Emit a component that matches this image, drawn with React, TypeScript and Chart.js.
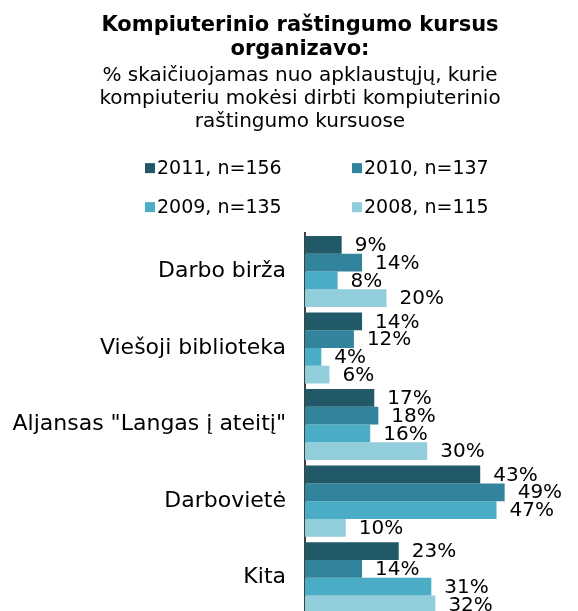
import React, { useEffect, useRef } from "react";
import { Chart, registerables } from "chart.js";

Chart.register(...registerables);

const categories = [
  "Darbo birža",
  "Viešoji biblioteka",
  'Aljansas "Langas į ateitį"',
  "Darbovietė",
  "Kita",
];
const seriesLabels = ["2011, n=156", "2010, n=137", "2009, n=135", "2008, n=115"];
const values2011 = [9, 14, 17, 43, 23];
const values2010 = [14, 12, 18, 49, 14];
const values2009 = [8, 4, 16, 47, 31];
const values2008 = [20, 6, 30, 10, 32];
const seriesColors = ["#215968", "#31849B", "#4BACC6", "#92CDDC"];
const titleLines = ["Kompiuterinio raštingumo kursus", "organizavo:"];
const subtitleLines = [
  "% skaičiuojamas nuo apklaustųjų, kurie",
  "kompiuteriu mokėsi dirbti kompiuterinio",
  "raštingumo kursuose",
];

const FONT = "'DejaVu Sans', Verdana, sans-serif";

const gridLegend = {
  id: "gridLegend",
  afterDraw(chart: any) {
    const ctx = chart.ctx as CanvasRenderingContext2D;
    const top = chart.chartArea.top;
    const colX = [145, 352];
    const rowY = [top - 65, top - 26];
    ctx.save();
    ctx.font = `19px ${FONT}`;
    ctx.textBaseline = "middle";
    ctx.textAlign = "left";
    chart.data.datasets.forEach((ds: any, i: number) => {
      const x = colX[i % 2];
      const y = rowY[Math.floor(i / 2)];
      ctx.fillStyle = ds.backgroundColor;
      ctx.fillRect(x, y - 5, 10, 10);
      ctx.fillStyle = "#000";
      ctx.fillText(ds.label, x + 12, y + 1);
    });
    ctx.restore();
  },
};

const barLabels = {
  id: "barLabels",
  afterDatasetsDraw(chart: any) {
    const ctx = chart.ctx as CanvasRenderingContext2D;
    ctx.save();
    ctx.font = `20px ${FONT}`;
    ctx.textBaseline = "middle";
    ctx.textAlign = "left";
    ctx.fillStyle = "#000";
    chart.data.datasets.forEach((ds: any, i: number) => {
      const meta = chart.getDatasetMeta(i);
      meta.data.forEach((el: any, j: number) => {
        ctx.fillText(`${ds.data[j]}%`, el.x + 13, el.y + 1);
      });
    });
    ctx.restore();
  },
};

export default function App() {
  const canvasRef = useRef<HTMLCanvasElement | null>(null);

  useEffect(() => {
    if (!canvasRef.current) return;
    const seriesValues = [values2011, values2010, values2009, values2008];
    const chart = new Chart(canvasRef.current, {
      type: "bar",
      data: {
        labels: categories,
        datasets: seriesLabels.map((label, i) => ({
          label,
          data: seriesValues[i],
          backgroundColor: seriesColors[i],
          borderWidth: 0,
          categoryPercentage: 0.928,
          barPercentage: 1,
        })),
      },
      options: {
        indexAxis: "y",
        responsive: false,
        animation: false,
        layout: {
          autoPadding: false,
          padding: { left: 0, right: -22, top: 0, bottom: 0 },
        },
        scales: {
          x: { display: false, min: 0, max: 67 },
          y: {
            grid: { display: false, drawTicks: false },
            border: { display: true, color: "#404040", width: 2 },
            ticks: {
              padding: 19,
              color: "#000",
              font: { family: FONT, size: 22 },
            },
            afterFit(scale: any) {
              scale.width = 305;
              scale.paddingTop = 0;
              scale.paddingBottom = 0;
            },
          },
        },
        plugins: {
          legend: { display: false },
          tooltip: { enabled: false },
          title: {
            display: true,
            text: titleLines,
            color: "#000",
            font: { family: FONT, size: 21, weight: "bold", lineHeight: 1.17 },
            padding: { top: 13, bottom: 0 },
          },
          subtitle: {
            display: true,
            text: subtitleLines,
            color: "#000",
            font: { family: FONT, size: 20, lineHeight: 1.15 },
            padding: { top: 2.5, bottom: 99.5 },
          },
        },
      },
      plugins: [gridLegend, barLabels],
    });
    return () => chart.destroy();
  }, []);

  return (
    <div
      style={{
        position: "absolute",
        left: 0,
        top: 0,
        width: 578,
        height: 611,
        overflow: "hidden",
        background: "#fff",
      }}
    >
      <canvas ref={canvasRef} width={578} height={616} />
    </div>
  );
}
